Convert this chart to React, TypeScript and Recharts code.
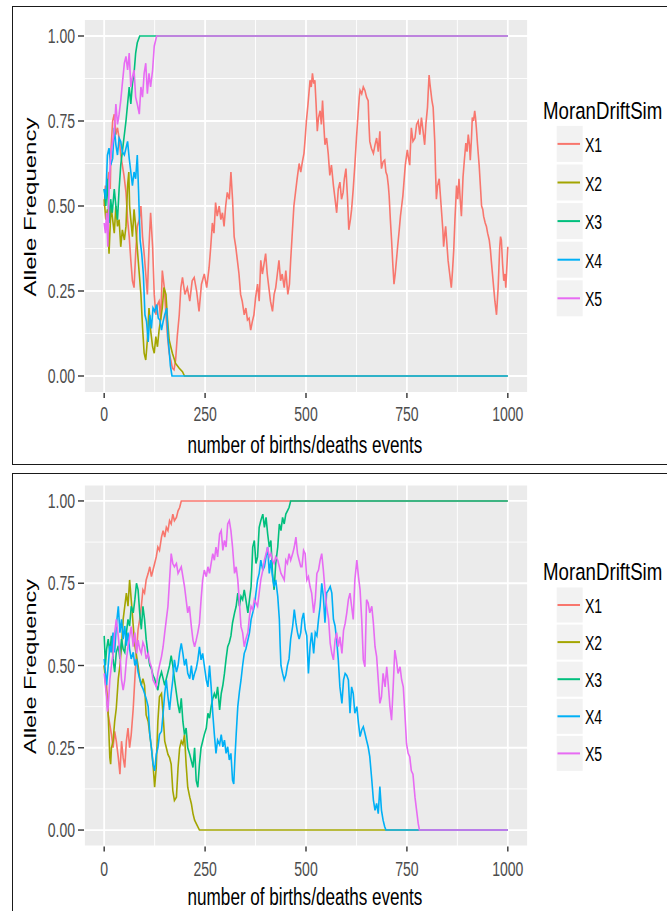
import React from 'react';
import { LineChart, Line, XAxis, YAxis, CartesianGrid, ReferenceLine, Legend } from 'recharts';

// ---------------- data ----------------
const seriesNames = ['X1', 'X2', 'X3', 'X4', 'X5'];
const seriesColors = ['#F8766D', '#A3A500', '#00BF7D', '#00B0F6', '#E76BF3'];
const xTicks = [0, 250, 500, 750, 1000];
const xMinor = [125, 375, 625, 875];
const yTicks = [0, 0.25, 0.5, 0.75, 1];
const yMinor = [0.125, 0.375, 0.625, 0.875];

// top panel: [event, allele frequency]
const topX1 = [[0,0.5],[3,0.56],[6,0.52],[9,0.58],[12,0.6],[15,0.55],[17,0.67],[21,0.75],[25,0.77],[29,0.71],[33,0.73],[37,0.7],[41,0.65],[45,0.62],[49,0.59],[54,0.54],[58,0.46],[62,0.41],[66,0.34],[70,0.28],[74,0.26],[78,0.36],[82,0.44],[87,0.46],[91,0.5],[95,0.41],[99,0.36],[103,0.3],[107,0.24],[111,0.38],[115,0.48],[120,0.38],[124,0.24],[128,0.18],[132,0.21],[136,0.22],[140,0.165],[144,0.31],[149,0.26],[153,0.18],[157,0.115],[161,0.067],[165,0.047],[169,0.023],[173,0.018],[177,0.047],[181,0.116],[186,0.18],[190,0.26],[194,0.29],[200,0.24],[206,0.26],[212,0.22],[218,0.28],[223,0.29],[229,0.25],[235,0.19],[241,0.27],[248,0.3],[254,0.26],[260,0.32],[264,0.38],[268,0.45],[272,0.42],[276,0.51],[280,0.47],[285,0.5],[289,0.46],[293,0.48],[297,0.44],[301,0.5],[305,0.54],[310,0.52],[314,0.6],[318,0.52],[322,0.41],[326,0.38],[330,0.34],[334,0.3],[338,0.24],[342,0.22],[347,0.18],[351,0.2],[355,0.165],[359,0.17],[363,0.135],[367,0.16],[371,0.18],[375,0.23],[380,0.27],[384,0.22],[388,0.34],[392,0.3],[396,0.33],[400,0.36],[404,0.3],[408,0.26],[412,0.22],[417,0.19],[421,0.24],[425,0.26],[429,0.3],[433,0.34],[437,0.28],[441,0.3],[446,0.26],[450,0.31],[455,0.24],[459,0.27],[462,0.34],[466,0.42],[470,0.5],[474,0.54],[478,0.58],[483,0.625],[487,0.6],[491,0.63],[495,0.655],[498,0.7],[501,0.75],[505,0.8],[510,0.87],[513,0.85],[516,0.89],[519,0.86],[522,0.87],[525,0.8],[528,0.72],[531,0.76],[535,0.78],[538,0.74],[541,0.81],[544,0.74],[547,0.68],[551,0.7],[555,0.655],[559,0.59],[563,0.62],[568,0.56],[572,0.52],[576,0.48],[580,0.55],[584,0.57],[588,0.52],[592,0.54],[595,0.58],[599,0.61],[603,0.52],[606,0.43],[610,0.46],[613,0.49],[617,0.55],[621,0.62],[625,0.7],[629,0.77],[632,0.82],[634,0.84],[638,0.83],[642,0.85],[646,0.84],[650,0.82],[654,0.81],[656,0.74],[658,0.69],[662,0.67],[667,0.655],[671,0.68],[675,0.7],[679,0.66],[683,0.72],[685,0.65],[687,0.61],[691,0.63],[695,0.635],[698,0.6],[701,0.59],[704,0.56],[706,0.53],[709,0.46],[712,0.4],[715,0.33],[718,0.27],[721,0.3],[724,0.34],[727,0.38],[731,0.43],[734,0.47],[737,0.5],[740,0.53],[742,0.56],[746,0.62],[751,0.665],[754,0.64],[757,0.62],[759,0.68],[761,0.73],[765,0.69],[770,0.7],[774,0.74],[778,0.75],[782,0.71],[786,0.76],[790,0.72],[794,0.68],[797,0.74],[801,0.79],[803,0.84],[805,0.885],[807,0.86],[809,0.84],[812,0.81],[815,0.79],[817,0.74],[819,0.69],[821,0.6],[823,0.52],[826,0.56],[830,0.58],[833,0.53],[836,0.48],[839,0.43],[841,0.38],[844,0.42],[846,0.44],[849,0.39],[852,0.34],[856,0.3],[860,0.26],[863,0.31],[866,0.37],[869,0.46],[873,0.56],[876,0.52],[879,0.58],[882,0.52],[885,0.47],[889,0.585],[892,0.63],[896,0.685],[899,0.66],[902,0.71],[905,0.68],[907,0.635],[910,0.7],[912,0.76],[915,0.75],[918,0.78],[920,0.76],[922,0.73],[925,0.68],[929,0.62],[932,0.56],[935,0.5],[938,0.49],[940,0.47],[944,0.45],[947,0.44],[950,0.42],[954,0.4],[957,0.37],[959,0.34],[962,0.3],[965,0.26],[968,0.22],[972,0.18],[974,0.22],[976,0.26],[978,0.32],[980,0.38],[982,0.41],[984,0.4],[987,0.33],[990,0.28],[993,0.3],[995,0.26],[998,0.33],[1000,0.38]];
const topX2 = [[0,0.52],[4,0.46],[8,0.49],[12,0.36],[17,0.5],[21,0.46],[25,0.42],[29,0.5],[33,0.44],[37,0.46],[41,0.38],[45,0.43],[50,0.4],[54,0.44],[58,0.56],[61,0.6],[63,0.5],[66,0.46],[70,0.41],[74,0.49],[78,0.44],[83,0.36],[87,0.3],[91,0.24],[95,0.145],[99,0.067],[103,0.047],[107,0.106],[111,0.2],[115,0.135],[120,0.086],[124,0.067],[128,0.116],[132,0.086],[136,0.135],[144,0.2],[148,0.26],[153,0.24],[157,0.165],[161,0.106],[165,0.086],[169,0.067],[177,0.037],[186,0.023],[194,0.013],[199,0],[1000,0]];
const topX3 = [[0,0.55],[4,0.5],[8,0.58],[12,0.45],[16,0.52],[20,0.48],[25,0.55],[29,0.5],[33,0.46],[37,0.55],[41,0.62],[45,0.66],[49,0.7],[54,0.75],[58,0.8],[62,0.85],[66,0.8],[70,0.86],[74,0.89],[78,0.95],[82,0.98],[88,1],[1000,1]];
const topX4 = [[0,0.55],[4,0.52],[8,0.65],[12,0.67],[16,0.62],[21,0.64],[25,0.73],[29,0.68],[33,0.65],[37,0.7],[41,0.69],[45,0.66],[50,0.65],[54,0.67],[58,0.69],[62,0.64],[66,0.6],[70,0.56],[74,0.6],[78,0.58],[82,0.65],[85,0.55],[89,0.4],[93,0.36],[97,0.3],[101,0.18],[105,0.16],[109,0.1],[113,0.18],[117,0.14],[121,0.2],[125,0.19],[130,0.21],[134,0.17],[138,0.165],[142,0.135],[146,0.16],[150,0.18],[155,0.2],[158,0.115],[161,0.076],[164,0.03],[168,0],[1000,0]];
const topX5 = [[0,0.45],[3,0.42],[6,0.48],[9,0.38],[12,0.55],[16,0.65],[20,0.68],[25,0.72],[29,0.8],[33,0.74],[37,0.77],[41,0.81],[45,0.86],[50,0.92],[54,0.94],[58,0.9],[62,0.95],[66,0.85],[70,0.88],[74,0.9],[78,0.82],[82,0.8],[87,0.77],[91,0.85],[95,0.82],[99,0.89],[103,0.92],[107,0.83],[111,0.89],[115,0.85],[120,0.9],[124,0.97],[130,1],[1000,1]];

// bottom panel: [event, allele frequency]
const botX1 = [[0,0.5],[3,0.47],[6,0.44],[10,0.35],[14,0.32],[18,0.29],[22,0.25],[26,0.3],[30,0.27],[35,0.22],[39,0.17],[43,0.27],[47,0.22],[51,0.19],[55,0.27],[59,0.31],[63,0.25],[67,0.29],[72,0.37],[76,0.46],[80,0.54],[84,0.61],[88,0.64],[92,0.68],[96,0.73],[100,0.72],[104,0.76],[109,0.78],[113,0.8],[117,0.77],[121,0.79],[125,0.81],[129,0.83],[133,0.86],[137,0.85],[142,0.89],[146,0.91],[150,0.89],[154,0.92],[158,0.91],[162,0.94],[166,0.93],[170,0.96],[174,0.94],[179,0.95],[183,0.97],[187,0.98],[191,1],[1000,1]];
const botX2 = [[0,0.5],[3,0.45],[6,0.415],[10,0.35],[14,0.22],[16,0.2],[18,0.25],[22,0.27],[26,0.33],[30,0.37],[35,0.46],[39,0.5],[43,0.56],[47,0.64],[51,0.68],[55,0.72],[59,0.68],[63,0.76],[67,0.7],[72,0.62],[76,0.56],[80,0.53],[84,0.5],[88,0.46],[92,0.44],[96,0.46],[100,0.44],[104,0.35],[109,0.33],[113,0.29],[117,0.25],[121,0.2],[125,0.13],[129,0.19],[133,0.33],[137,0.405],[142,0.415],[146,0.35],[150,0.27],[154,0.25],[158,0.23],[162,0.22],[166,0.2],[170,0.12],[174,0.09],[179,0.1],[183,0.19],[187,0.25],[191,0.27],[195,0.26],[199,0.29],[203,0.2],[207,0.13],[212,0.1],[216,0.08],[220,0.05],[224,0.03],[230,0.015],[236,0],[1000,0]];
const botX3 = [[0,0.59],[3,0.5],[6,0.55],[10,0.58],[14,0.54],[18,0.59],[22,0.52],[26,0.48],[30,0.54],[35,0.56],[39,0.52],[43,0.58],[47,0.55],[51,0.54],[55,0.6],[59,0.64],[63,0.62],[67,0.68],[72,0.66],[76,0.7],[80,0.75],[84,0.73],[88,0.66],[92,0.61],[96,0.68],[100,0.64],[104,0.58],[109,0.53],[113,0.5],[117,0.49],[121,0.47],[125,0.46],[129,0.44],[133,0.425],[137,0.46],[142,0.48],[146,0.46],[150,0.44],[154,0.46],[158,0.48],[162,0.5],[166,0.53],[170,0.5],[174,0.46],[179,0.415],[183,0.38],[187,0.355],[191,0.4],[195,0.33],[199,0.29],[203,0.31],[207,0.25],[212,0.23],[216,0.21],[220,0.19],[224,0.25],[228,0.15],[232,0.13],[236,0.2],[240,0.25],[244,0.27],[248,0.29],[253,0.31],[257,0.355],[261,0.34],[265,0.375],[269,0.4],[273,0.415],[277,0.4],[281,0.435],[286,0.365],[290,0.415],[294,0.44],[298,0.476],[302,0.52],[306,0.557],[310,0.57],[314,0.59],[318,0.63],[323,0.66],[327,0.68],[331,0.72],[335,0.68],[339,0.71],[343,0.7],[347,0.73],[351,0.7],[356,0.66],[360,0.7],[364,0.74],[366,0.8],[368,0.86],[372,0.88],[376,0.81],[380,0.83],[384,0.92],[388,0.94],[393,0.96],[397,0.92],[401,0.95],[405,0.9],[409,0.86],[413,0.88],[417,0.78],[421,0.73],[425,0.81],[430,0.86],[434,0.93],[438,0.91],[442,0.95],[446,0.93],[450,0.96],[454,0.97],[458,0.98],[462,1],[1000,1]];
const botX4 = [[0,0.52],[3,0.48],[6,0.44],[10,0.5],[14,0.56],[18,0.54],[22,0.6],[26,0.54],[30,0.62],[35,0.68],[39,0.6],[43,0.64],[47,0.58],[51,0.62],[55,0.56],[59,0.6],[63,0.55],[67,0.52],[72,0.54],[76,0.5],[80,0.52],[84,0.48],[88,0.46],[92,0.44],[96,0.43],[100,0.415],[104,0.4],[109,0.375],[113,0.29],[117,0.25],[121,0.2],[125,0.18],[129,0.23],[133,0.25],[137,0.29],[142,0.3],[146,0.355],[150,0.415],[154,0.456],[158,0.405],[162,0.365],[166,0.415],[170,0.456],[174,0.517],[179,0.48],[183,0.5],[187,0.54],[191,0.567],[195,0.537],[199,0.5],[203,0.52],[207,0.476],[212,0.46],[216,0.5],[220,0.456],[224,0.476],[228,0.49],[232,0.517],[236,0.557],[240,0.517],[244,0.537],[248,0.5],[253,0.456],[257,0.435],[261,0.5],[265,0.435],[269,0.355],[273,0.29],[277,0.233],[281,0.273],[286,0.26],[290,0.29],[294,0.253],[298,0.273],[302,0.233],[306,0.253],[310,0.213],[314,0.233],[318,0.152],[321,0.14],[324,0.22],[327,0.29],[331,0.375],[335,0.42],[339,0.456],[343,0.5],[347,0.537],[351,0.55],[356,0.577],[360,0.6],[364,0.64],[368,0.66],[372,0.68],[376,0.72],[380,0.76],[384,0.78],[388,0.82],[393,0.79],[397,0.8],[401,0.83],[405,0.86],[409,0.78],[413,0.82],[417,0.77],[421,0.74],[425,0.76],[430,0.71],[434,0.64],[436,0.56],[438,0.5],[442,0.476],[446,0.456],[450,0.47],[454,0.5],[458,0.52],[462,0.58],[467,0.62],[471,0.67],[475,0.63],[479,0.6],[483,0.58],[487,0.6],[490,0.64],[494,0.66],[498,0.61],[502,0.59],[506,0.476],[510,0.557],[514,0.6],[519,0.537],[523,0.6],[527,0.59],[531,0.64],[535,0.68],[539,0.75],[543,0.71],[547,0.63],[551,0.72],[556,0.73],[560,0.74],[564,0.72],[568,0.64],[572,0.62],[576,0.577],[580,0.517],[584,0.435],[589,0.385],[593,0.456],[597,0.476],[601,0.47],[605,0.456],[609,0.355],[613,0.435],[617,0.415],[621,0.355],[626,0.375],[630,0.324],[634,0.284],[638,0.304],[642,0.314],[646,0.294],[650,0.273],[654,0.253],[658,0.223],[663,0.152],[667,0.091],[671,0.06],[675,0.081],[679,0.05],[683,0.132],[687,0.06],[691,0.03],[695,0.01],[698,0],[1000,0]];
const botX5 = [[0,0.476],[3,0.44],[6,0.405],[8,0.36],[10,0.375],[14,0.456],[18,0.5],[22,0.537],[26,0.6],[30,0.64],[35,0.587],[39,0.537],[43,0.456],[47,0.425],[51,0.456],[55,0.517],[59,0.557],[63,0.587],[67,0.618],[72,0.557],[76,0.6],[80,0.537],[84,0.577],[88,0.55],[92,0.537],[96,0.57],[100,0.557],[104,0.52],[109,0.537],[113,0.51],[117,0.496],[121,0.456],[125,0.446],[129,0.435],[133,0.476],[137,0.5],[142,0.527],[146,0.557],[150,0.6],[154,0.64],[158,0.68],[162,0.76],[166,0.84],[170,0.81],[174,0.8],[179,0.81],[183,0.78],[187,0.79],[191,0.8],[195,0.77],[199,0.74],[203,0.7],[207,0.66],[211,0.68],[216,0.618],[220,0.577],[224,0.557],[228,0.577],[232,0.6],[236,0.628],[240,0.7],[244,0.76],[248,0.79],[253,0.77],[257,0.8],[261,0.78],[265,0.81],[269,0.84],[273,0.82],[277,0.86],[281,0.83],[286,0.9],[290,0.91],[294,0.85],[298,0.88],[302,0.86],[306,0.93],[310,0.94],[314,0.91],[318,0.86],[323,0.78],[327,0.8],[331,0.76],[335,0.69],[339,0.618],[343,0.6],[347,0.557],[351,0.58],[356,0.6],[360,0.65],[364,0.68],[368,0.67],[372,0.7],[376,0.69],[380,0.68],[384,0.72],[388,0.76],[393,0.79],[397,0.82],[401,0.84],[405,0.86],[409,0.83],[413,0.84],[417,0.82],[421,0.81],[425,0.83],[430,0.82],[434,0.8],[438,0.78],[442,0.77],[446,0.76],[450,0.82],[454,0.81],[458,0.84],[462,0.82],[467,0.84],[471,0.86],[475,0.89],[479,0.84],[483,0.82],[487,0.8],[490,0.8],[494,0.85],[498,0.84],[502,0.76],[506,0.77],[510,0.74],[514,0.72],[519,0.66],[523,0.7],[527,0.78],[531,0.79],[535,0.82],[539,0.84],[543,0.79],[547,0.73],[551,0.68],[556,0.64],[560,0.567],[564,0.537],[568,0.517],[572,0.577],[576,0.6],[580,0.557],[584,0.587],[589,0.537],[593,0.607],[597,0.628],[601,0.66],[605,0.7],[609,0.72],[613,0.68],[617,0.64],[621,0.76],[626,0.82],[630,0.77],[634,0.73],[638,0.64],[642,0.517],[646,0.496],[650,0.7],[654,0.69],[658,0.66],[663,0.68],[667,0.628],[671,0.557],[675,0.527],[679,0.456],[683,0.385],[687,0.405],[691,0.476],[696,0.435],[700,0.496],[704,0.44],[708,0.375],[712,0.334],[716,0.435],[720,0.547],[724,0.517],[728,0.476],[733,0.496],[737,0.456],[741,0.435],[745,0.355],[749,0.263],[753,0.233],[757,0.223],[761,0.18],[765,0.17],[770,0.1],[774,0.06],[778,0.02],[781,0],[1000,0]];

const topSeries = [topX1, topX2, topX3, topX4, topX5];
const botSeries = [botX1, botX2, botX3, botX4, botX5];

// ---------------- styling ----------------
const FONT = '"Liberation Sans", Arial, Helvetica, sans-serif';
const SQX = 0.72; // horizontal squeeze of the reference picture
const TICK_FS = 19.5;

const XTick = (props: any) => {
  const { x, y, payload, dy } = props;
  return (
    <g transform={`translate(${x},${y + dy}) scale(${SQX},1)`}>
      <text textAnchor="middle" fill="#4D4D4D" fontSize={TICK_FS} fontFamily={FONT}>{payload.value}</text>
    </g>
  );
};

const YTick = (props: any) => {
  const { x, y, payload } = props;
  return (
    <g transform={`translate(${x - 3},${y + 7}) scale(${SQX},1)`}>
      <text textAnchor="end" fill="#4D4D4D" fontSize={TICK_FS} fontFamily={FONT}>{Number(payload.value).toFixed(2)}</text>
    </g>
  );
};

const makeXTitle = (offset: number) => (props: any) => {
  const vb = props.viewBox || {};
  return (
    <g transform={`translate(${vb.x + vb.width / 2 - 1},${vb.y + offset}) scale(0.728,1)`}>
      <text x={0} y={0} textAnchor="middle" fontSize={23.5} fontFamily={FONT} fill="#000">number of births/deaths events</text>
    </g>
  );
};

const makeYTitle = (len: number) => (props: any) => {
  const vb = props.viewBox || {};
  const cy = vb.y + vb.height / 2 + 1;
  return (
    <g transform={`translate(35.5,${cy}) scale(${SQX},1) rotate(-90)`}>
      <text x={0} y={0} textAnchor="middle" fontSize={24} fontFamily={FONT} fill="#000"
        textLength={len} lengthAdjust="spacingAndGlyphs">Allele Frequency</text>
    </g>
  );
};

const makeLegend = (cfg: { titleBase: number; key0: number; pitch: number; keyH: number }) => (props: any) => {
  const items = props.payload || [];
  return (
    <svg width={125} height={250} style={{ display: 'block', overflow: 'visible' }}>
      <g transform={`translate(3,${cfg.titleBase}) scale(0.795,1)`}>
        <text x={0} y={0} fontSize={23.5} fontFamily={FONT} fill="#000">MoranDriftSim</text>
      </g>
      {items.map((it: any, i: number) => {
        const cy = cfg.key0 + cfg.pitch * i;
        return (
          <g key={i}>
            <rect x={16.7} y={cy - cfg.keyH / 2} width={26} height={cfg.keyH} fill="#F2F2F2" />
            <line x1={17.5} x2={40} y1={cy} y2={cy} stroke={it.color} strokeWidth={2} />
            <g transform={`translate(45,${cy + 8}) scale(${SQX},1)`}>
              <text fontSize={TICK_FS} fontFamily={FONT} fill="#000">{it.value}</text>
            </g>
          </g>
        );
      })}
    </svg>
  );
};

type PanelProps = {
  series: number[][][];
  height: number;
  margin: { top: number; right: number; bottom: number; left: number };
  xAxisHeight: number;
  xTickDy: number;
  xTitleOffset: number;
  yTitleLen: number;
  legendTop: number;
  legendCfg: { titleBase: number; key0: number; pitch: number; keyH: number };
};

const Panel = (p: PanelProps) => (
  <LineChart width={667} height={p.height} margin={p.margin}>
    <CartesianGrid fill="#EBEBEB" fillOpacity={1} stroke="#FFFFFF" strokeWidth={1.8} />
    {xMinor.map((v) => (
      <ReferenceLine key={'xm' + v} x={v} stroke="#FFFFFF" strokeWidth={0.9} zIndex={-50} />
    ))}
    {yMinor.map((v) => (
      <ReferenceLine key={'ym' + v} y={v} stroke="#FFFFFF" strokeWidth={0.9} zIndex={-50} />
    ))}
    <XAxis dataKey="t" type="number" domain={[-50, 1050]} ticks={xTicks} allowDataOverflow
      height={p.xAxisHeight} axisLine={false} tickSize={5} tickMargin={0}
      tickLine={{ stroke: '#333333', strokeWidth: 1.4 }}
      tick={(tp: any) => <XTick {...tp} dy={p.xTickDy} />}
      label={{ content: makeXTitle(p.xTitleOffset) }} />
    <YAxis type="number" domain={[-0.05, 1.05]} ticks={yTicks} allowDataOverflow width={84}
      axisLine={false} tickSize={6} tickMargin={0}
      tickLine={{ stroke: '#333333', strokeWidth: 1.4 }}
      tick={(tp: any) => <YTick {...tp} />}
      label={{ content: makeYTitle(p.yTitleLen) }} />
    {p.series.map((pts, i) => (
      <Line key={seriesNames[i]} name={seriesNames[i]} data={pts.map(([t, f]) => ({ t, f }))}
        dataKey="f" type="linear" stroke={seriesColors[i]} strokeWidth={1.6}
        dot={false} activeDot={false} isAnimationActive={false} legendType="line" />
    ))}
    <Legend layout="vertical" align="center" verticalAlign="middle"
      wrapperStyle={{ left: 540, top: p.legendTop, width: 125, height: 250 }}
      content={makeLegend(p.legendCfg)} />
  </LineChart>
);

export default function App() {
  return (
    <div style={{ position: 'absolute', left: 0, top: 0, width: 667, height: 911, background: '#fff', overflow: 'hidden' }}>
      <div style={{ position: 'absolute', left: 12, top: 6, width: 670, height: 459, border: '1.5px solid #1a1a1a', boxSizing: 'border-box' }} />
      <div style={{ position: 'absolute', left: 12, top: 472.5, width: 670, height: 460, border: '1.5px solid #1a1a1a', boxSizing: 'border-box' }} />
      <div style={{ position: 'absolute', left: 0, top: 0 }}>
        <Panel series={topSeries} height={470} margin={{ top: 19, right: 139, bottom: 17, left: 0 }}
          xAxisHeight={60} xTickDy={23} xTitleOffset={60} yTitleLen={179}
          legendTop={80} legendCfg={{ titleBase: 38.5, key0: 63.9, pitch: 38.6, keyH: 36 }} />
      </div>
      <div style={{ position: 'absolute', left: 0, top: 470 }}>
        <Panel series={botSeries} height={441} margin={{ top: 14.5, right: 139, bottom: 14.5, left: 0 }}
          xAxisHeight={50} xTickDy={24.5} xTitleOffset={58} yTitleLen={175}
          legendTop={70} legendCfg={{ titleBase: 40, key0: 65, pitch: 37.1, keyH: 35 }} />
      </div>
    </div>
  );
}
